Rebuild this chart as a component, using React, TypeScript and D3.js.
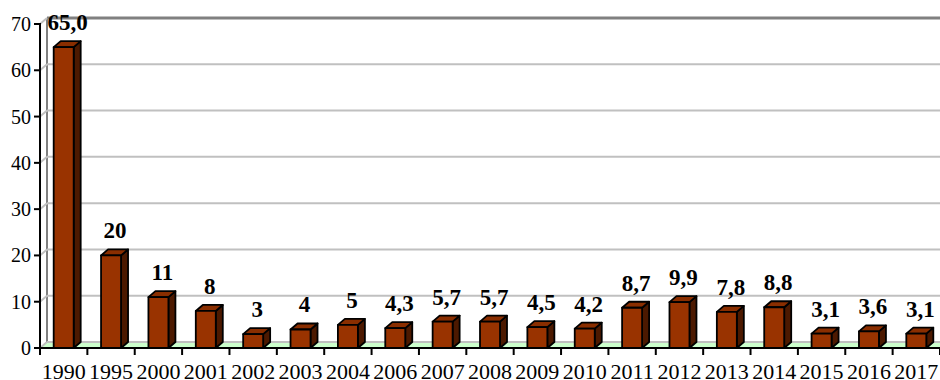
import React from "react";
import * as d3 from "d3";

const years = ["1990","1995","2000","2001","2002","2003","2004","2006","2007","2008","2009","2010","2011","2012","2013","2014","2015","2016","2017"];
const values = [65.0, 20, 11, 8, 3, 4, 5, 4.3, 5.7, 5.7, 4.5, 4.2, 8.7, 9.9, 7.8, 8.8, 3.1, 3.6, 3.1];
const valueLabels = ["65,0","20","11","8","3","4","5","4,3","5,7","5,7","4,5","4,2","8,7","9,9","7,8","8,8","3,1","3,6","3,1"];
const yTicks = [0, 10, 20, 30, 40, 50, 60, 70];

const W = 940, H = 380;
const left = 40, right = 940, bottom = 348, top = 24;
const dx = 7, dy = 6;
const font = "'Liberation Serif', 'Times New Roman', serif";

export default function App() {
  const x = d3.scaleBand<string>().domain(years).range([left, right]).paddingInner(0.578).paddingOuter(0.289);
  const y = d3.scaleLinear().domain([0, 70]).range([bottom, top]);
  const bw = x.bandwidth();
  const step = x.step();
  const boundaries = d3.range(years.length + 1).map(i => left + i * step);

  return (
    <svg width={W} height={H} style={{ position: "fixed", left: 0, top: 0, background: "#fff" }}>
      {/* floor */}
      <polygon points={`${left},${bottom} ${left + dx},${bottom - dy} ${right + dx},${bottom - dy} ${right},${bottom}`} fill="#ccffcc" stroke="#808080" strokeWidth={1} />
      {/* left wall edge */}
      <line x1={left + dx} x2={left + dx} y1={y(70) - dy} y2={bottom - dy} stroke="#808080" strokeWidth={2} />
      {/* gridlines on back wall */}
      {yTicks.map(t => (
        <g key={t}>
          <line x1={left + dx} x2={right} y1={y(t) - dy} y2={y(t) - dy} stroke={t === 70 ? "#808080" : "#c0c0c0"} strokeWidth={t === 70 ? 3 : 2} />
          <line x1={left} x2={left + dx} y1={y(t)} y2={y(t) - dy} stroke="#c0c0c0" strokeWidth={2} />
        </g>
      ))}
      {/* bars */}
      {years.map((yr, i) => {
        const x0 = x(yr)!;
        const x1 = x0 + bw;
        const yt = y(values[i]);
        return (
          <g key={yr} stroke="#000" strokeWidth={1.8} strokeLinejoin="round">
            <polygon points={`${x1},${bottom} ${x1 + dx},${bottom - dy} ${x1 + dx},${yt - dy} ${x1},${yt}`} fill="#4c1900" />
            <polygon points={`${x0},${yt} ${x0 + dx},${yt - dy} ${x1 + dx},${yt - dy} ${x1},${yt}`} fill="#8a2e00" />
            <rect x={x0} y={yt} width={bw} height={bottom - yt} fill="#993300" />
          </g>
        );
      })}
      {/* y axis */}
      <line x1={left} x2={left} y1={y(70) - 1} y2={bottom + 1} stroke="#000" strokeWidth={2} />
      {yTicks.map(t => (
        <g key={t}>
          <line x1={left - 6} x2={left} y1={y(t)} y2={y(t)} stroke="#000" strokeWidth={2} />
          <text x={left - 9} y={y(t)} dy="0.35em" textAnchor="end" fontFamily={font} fontSize={20}>{t}</text>
        </g>
      ))}
      {/* x axis */}
      <line x1={left} x2={right} y1={bottom} y2={bottom} stroke="#000" strokeWidth={2} />
      {boundaries.map((b, i) => (
        <line key={i} x1={b} x2={b} y1={bottom} y2={bottom + 7} stroke="#000" strokeWidth={2} />
      ))}
      {years.map(yr => (
        <text key={yr} x={x(yr)! + bw / 2} y={379} textAnchor="middle" fontFamily={font} fontSize={22}>{yr}</text>
      ))}
      {/* value labels */}
      {years.map((yr, i) => (
        <text key={yr} x={x(yr)! + bw / 2 + 4} y={y(values[i]) - 17} textAnchor="middle" fontFamily={font} fontSize={23} fontWeight="bold">{valueLabels[i]}</text>
      ))}
    </svg>
  );
}
